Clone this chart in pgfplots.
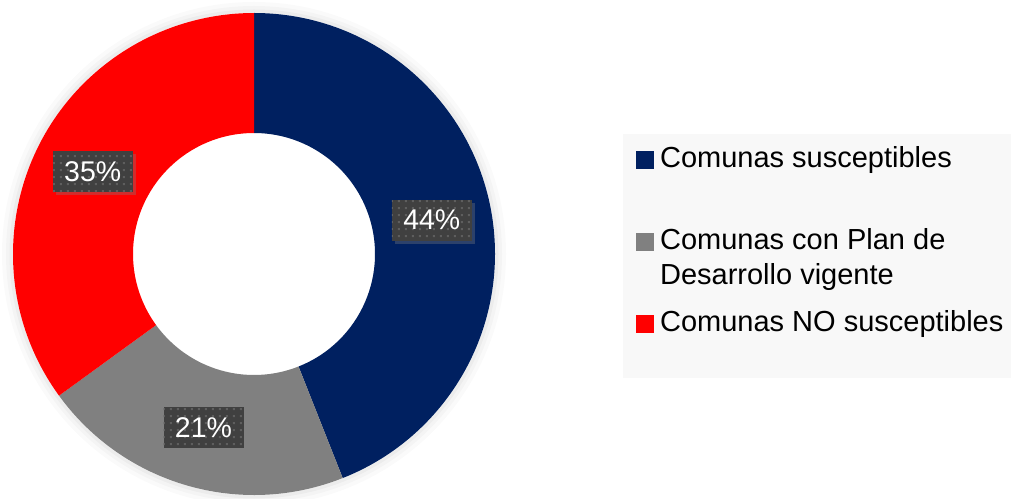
\documentclass[border=0pt]{standalone}
\usepackage{pgfplots}
\pgfplotsset{compat=1.18}
\usepackage{pgfplotstable}
\usepackage{fontspec}
\setmainfont{Liberation Sans}
\usetikzlibrary{shadows,patterns.meta}

\definecolor{navy}{HTML}{002060}
\definecolor{midgray}{HTML}{808080}
\definecolor{pured}{HTML}{FF0000}
\definecolor{tagfill}{HTML}{404040}
\definecolor{tagdot}{HTML}{5E5E5E}
\definecolor{legendbg}{HTML}{F8F8F8}

\tikzdeclarepattern{
  name=tagdots, type=uncolored,
  bounding box={(0pt,0pt) and (6.5pt,6.5pt)},
  tile size={(6.5pt,6.5pt)},
  code={\pgfpathrectangle{\pgfqpoint{1pt}{1pt}}{\pgfqpoint{2pt}{2pt}}\pgfusepath{fill}}
}

\tikzset{
  tag/.style={fill=tagfill, text=white, inner sep=0pt,
    minimum width=80pt, minimum height=41pt,
    font=\fontsize{28.5}{34}\selectfont,
    drop shadow={shadow xshift=3pt, shadow yshift=-3pt, opacity=0.35},
    postaction={pattern=tagdots, pattern color=tagdot}},
}

% share of communes, percent
\pgfplotstableread[col sep=comma]{
label,value,color
Comunas susceptibles,44,navy
Comunas con Plan de Desarrollo vigente,21,midgray
Comunas NO susceptibles,35,pured
}\piedata

\begin{document}
\begin{tikzpicture}
\path[use as bounding box] (0,0) rectangle (1011pt,498pt);
\begin{axis}[
  hide axis,
  x=1pt, y=1pt,
  xmin=0, xmax=1011, ymin=0, ymax=498,
  at={(0,0)}, anchor=south west,
  clip=false,
  legend image code/.code={\fill[#1] (0pt,0pt) rectangle (16.5pt,16.5pt);},
  legend cell align=left,
  legend style={at={(axis cs:636,351.4)}, anchor=north west,
    draw=none, fill=none, inner sep=0pt, row sep=0pt,
    column sep=7pt,
    cells={anchor=base west},
    nodes={inner sep=0pt},
    font=\fontsize{29}{35}\selectfont},
]
% soft glow round the ring
\fill[black, opacity=0.02] (axis cs:254,244) circle[radius=252pt];
\fill[black, opacity=0.025] (axis cs:254,244) circle[radius=248pt];
\fill[black, opacity=0.03] (axis cs:254,244) circle[radius=244.5pt];
\fill[white] (axis cs:254,244) circle[radius=241pt];
% legend panel
\fill[legendbg] (axis cs:623,120) rectangle (axis cs:1011,364);

\pgfplotstablegetrowsof{\piedata}
\pgfmathtruncatemacro\lastrow{\pgfplotsretval-1}
\def\cum{0}
\pgfplotsforeachungrouped \i in {0,...,\lastrow}{
  \pgfplotstablegetelem{\i}{value}\of\piedata \let\pieval\pgfplotsretval
  \pgfplotstablegetelem{\i}{color}\of\piedata \let\piecol\pgfplotsretval
  \pgfmathsetmacro\angA{90-3.6*\cum}
  \pgfmathsetmacro\angB{90-3.6*(\cum+\pieval)}
  \edef\wedgecmd{\noexpand\fill[\piecol]
    ([shift={(\angA:241pt)}]axis cs:254,244)
    arc[start angle=\angA, end angle=\angB, radius=241pt]
    -- ([shift={(\angB:121pt)}]axis cs:254,244)
    arc[start angle=\angB, end angle=\angA, radius=121pt] -- cycle;}
  \wedgecmd
  \pgfmathsetmacro\cumnew{\cum+\pieval}
  \let\cum\cumnew
}
\def\cum{0}
\pgfplotsforeachungrouped \i in {0,...,\lastrow}{
  \pgfplotstablegetelem{\i}{value}\of\piedata \let\pieval\pgfplotsretval
  \pgfmathsetmacro\angM{90-3.6*(\cum+\pieval/2)}
  \pgfmathtruncatemacro\pct{\pieval}
  \edef\tagcmd{\noexpand\node[tag] at ([shift={(\angM:181pt)}]axis cs:254,244) {\pct\noexpand\%};}
  \tagcmd
  \pgfmathsetmacro\cumnew{\cum+\pieval}
  \let\cum\cumnew
}

\addlegendimage{navy}
\addlegendentry{Comunas susceptibles}
\addlegendimage{midgray, yshift=35pt}
\addlegendentry{\vbox{\vskip 59.5pt\hbox{Comunas con Plan de}\hbox{Desarrollo vigente}}}
\addlegendimage{pured}
\addlegendentry{\vbox{\vskip 24.5pt\hbox{Comunas NO susceptibles}}}
\end{axis}
\end{tikzpicture}
\end{document}
